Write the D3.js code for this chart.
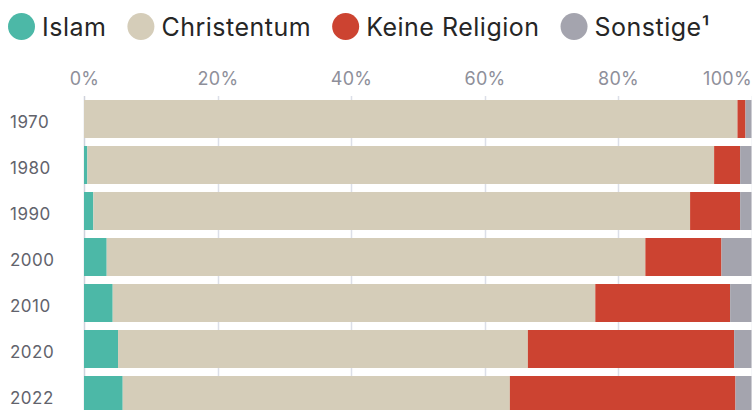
<!DOCTYPE html>
<html>
<head>
<meta charset="utf-8">
<script src="https://cdn.jsdelivr.net/npm/d3@7"></script>
<style>
  body { margin: 0; background: #fff; }
  svg { display: block; font-family: Inter, "Liberation Sans", sans-serif; }
</style>
</head>
<body>
<div id="chart"></div>
<script>
const width = 752,
    height = 410;

// data (percent shares)
const years = ["1970", "1980", "1990", "2000", "2010", "2020", "2022"];
const series = ["Islam", "Christentum", "Keine Religion", "Sonstige¹"];
const islam = [0, 0.5, 1.4, 3.4, 4.3, 5.1, 5.8];
const christentum = [97.9, 93.9, 89.4, 80.7, 72.3, 61.4, 58.0];
const keineReligion = [1.2, 3.9, 7.5, 11.4, 20.2, 30.9, 33.8];
const sonstige = [0.9, 1.7, 1.7, 4.5, 3.2, 2.6, 2.4];
const ticks = [0, 20, 40, 60, 80, 100];
const colors = ["#4cb8a7", "#d5cdb9", "#cc4331", "#a4a4ae"];

const rows = years.map((y, i) => ({
  year: y,
  "Islam": islam[i],
  "Christentum": christentum[i],
  "Keine Religion": keineReligion[i],
  "Sonstige¹": sonstige[i]
}));

const stacked = d3.stack().keys(series)(rows);

const svg = d3.select("#chart")
  .append("svg")
  .attr("width", width)
  .attr("height", height);

const x = d3.scaleLinear()
  .domain([0, 100])
  .range([84, 751.5]);

const y = d3.scaleBand()
  .domain(years)
  .range([96, 418])
  .paddingInner(8 / 46)
  .paddingOuter(4 / 46);

const color = d3.scaleOrdinal().domain(series).range(colors);

// gridlines
svg.append("g")
  .selectAll("line")
  .data(ticks)
  .join("line")
  .attr("x1", d => Math.round(x(d)) + 0.5)
  .attr("x2", d => Math.round(x(d)) + 0.5)
  .attr("y1", 96)
  .attr("y2", height)
  .attr("stroke", d => d === 0 ? "#cfd2dc" : "#dcdfe8")
  .attr("stroke-width", 1.5);

// bars
svg.append("g")
  .selectAll("g")
  .data(stacked)
  .join("g")
  .attr("fill", d => color(d.key))
  .selectAll("rect")
  .data(d => d)
  .join("rect")
  .attr("x", d => x(d[0]))
  .attr("y", d => y(d.data.year))
  .attr("width", d => x(d[1]) - x(d[0]))
  .attr("height", y.bandwidth());

// top axis labels
const xAxis = d3.axisTop(x)
  .tickValues(ticks)
  .tickSize(0)
  .tickPadding(0)
  .tickFormat(d => d + "%");

svg.append("g")
  .attr("transform", "translate(0, 85)")
  .call(xAxis)
  .call(g => g.select(".domain").remove())
  .selectAll("text")
  .attr("fill", "#8e8f9a")
  .style("font-size", "18px")
  .style("letter-spacing", "0.3px")
  .style("font-family", "Inter, 'Liberation Sans', sans-serif")
  .attr("text-anchor", d => d === 100 ? "end" : "middle");

// year labels
svg.append("g")
  .selectAll("text")
  .data(years)
  .join("text")
  .attr("x", 10)
  .attr("y", d => y(d) + y.bandwidth() / 2 + 3)
  .attr("dy", "0.35em")
  .attr("fill", "#62636c")
  .style("font-size", "17px")
  .style("letter-spacing", "0.5px")
  .text(d => d);

// legend
const legend = svg.append("g");
let lx = 8;
series.forEach((s, i) => {
  legend.append("circle")
    .attr("cx", lx + 13.5)
    .attr("cy", 26.5)
    .attr("r", 13.5)
    .attr("fill", colors[i]);
  const t = legend.append("text")
    .attr("x", lx + 34)
    .attr("y", 36)
    .attr("fill", "#262626")
    .style("font-size", "25px")
    .style("letter-spacing", "0.5px")
    .text(s);
  lx += 34 + t.node().getComputedTextLength() + 21;
});
</script>
</body>
</html>
